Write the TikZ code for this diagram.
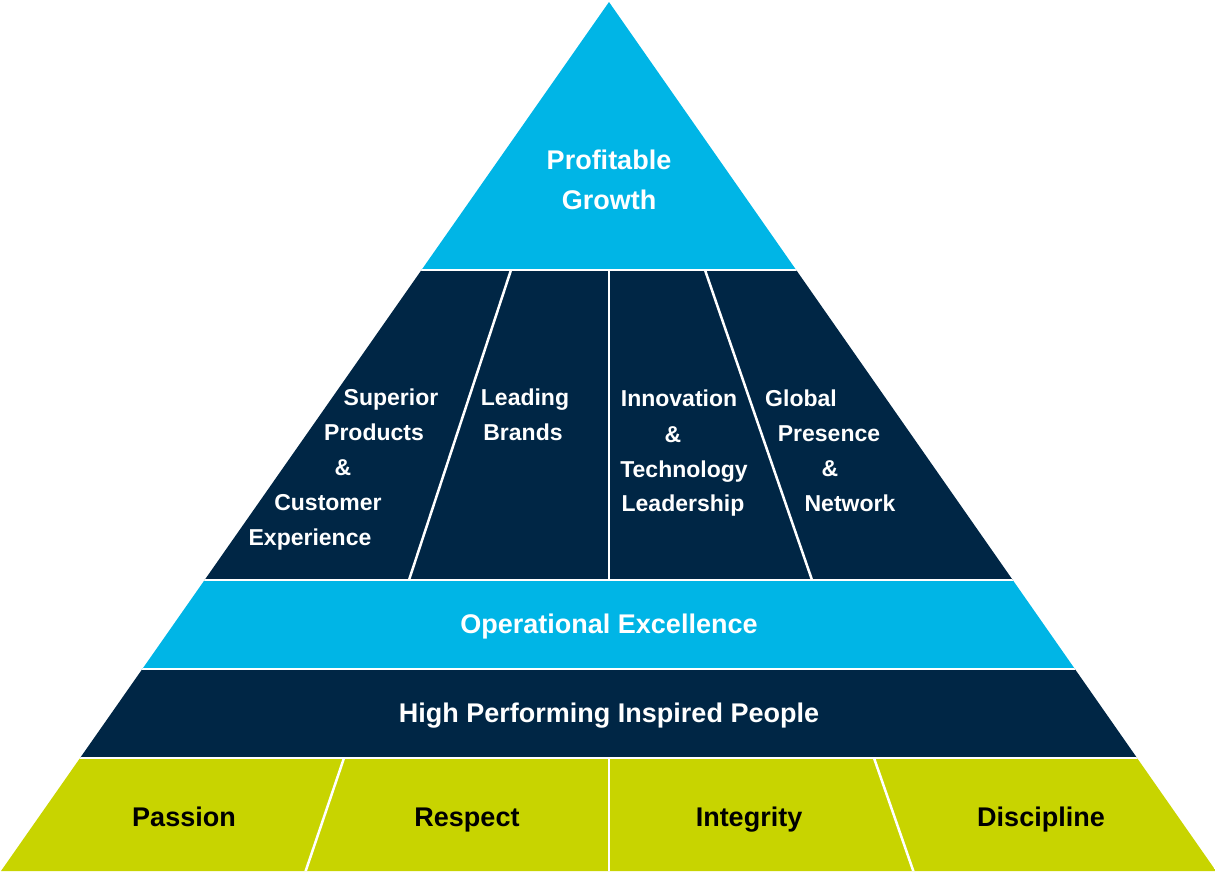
\documentclass[tikz,border=0pt]{standalone}
\usepackage{fontspec}
\setmainfont{Liberation Sans}
\usepackage{tikz}

\definecolor{skyblue}{HTML}{00B5E6}
\definecolor{navy}{HTML}{002645}
\definecolor{lime}{HTML}{C8D400}

\begin{document}
\begin{tikzpicture}[x=1pt,y=-1pt,
  tiertext/.style={anchor=base,inner sep=0pt,text=white,
    font=\bfseries\fontsize{27}{35}\selectfont},
  pillartext/.style={tiertext,font=\bfseries\fontsize{23}{35}\selectfont},
  basetext/.style={tiertext,text=black},
  gap/.style={white,line width=2.5pt}]
  \useasboundingbox (0,0) rectangle (1215,873);

  % the pyramid, cut into its tiers
  \begin{scope}
    \clip (609,2) -- (1,871) -- (1216,871) -- cycle;
    \fill[skyblue] (0,0) rectangle (1215,270);
    \fill[navy] (0,270) rectangle (1215,580);
    \fill[skyblue] (0,580) rectangle (1215,669);
    \fill[navy] (0,669) rectangle (1215,758);
    \fill[lime] (0,758) rectangle (1215,873);

    \draw[gap] (0,270) -- (1215,270);
    \draw[gap] (0,580) -- (1215,580);
    \draw[gap] (0,669) -- (1215,669);
    \draw[gap] (0,758) -- (1215,758);

    \draw[gap] (511,270) -- (409,580);
    \draw[gap] (609,270) -- (609,580);
    \draw[gap] (705,270) -- (812,580);

    \draw[gap] (344,758) -- (305,873);
    \draw[gap] (609,758) -- (609,873);
    \draw[gap] (874,758) -- (914,873);
  \end{scope}

  % top
  \node[tiertext] (growth1) at (609,169) {Profitable};
  \node[tiertext] (growth2) at (609,209) {Growth};

  % pillars
  \node[pillartext] (prod1) at (391,405) {Superior};
  \node[pillartext] (prod2) at (374,440) {Products};
  \node[pillartext] (prod3) at (343,475) {\&};
  \node[pillartext] (prod4) at (328,510) {Customer};
  \node[pillartext] (prod5) at (310,545) {Experience};

  \node[pillartext] (brand1) at (525,405) {Leading};
  \node[pillartext] (brand2) at (523,440) {Brands};

  \node[pillartext] (tech1) at (679,406) {Innovation};
  \node[pillartext] (tech2) at (673,442) {\&};
  \node[pillartext] (tech3) at (684,477) {Technology};
  \node[pillartext] (tech4) at (683,511) {Leadership};

  \node[pillartext] (glob1) at (801,406) {Global};
  \node[pillartext] (glob2) at (829,441) {Presence};
  \node[pillartext] (glob3) at (830,476) {\&};
  \node[pillartext] (glob4) at (850,511) {Network};

  % foundation
  \node[tiertext] (opex) at (609,633) {Operational Excellence};
  \node[tiertext] (people) at (609,722) {High Performing Inspired People};

  \node[basetext] (passion) at (184,826) {Passion};
  \node[basetext] (respect) at (467,826) {Respect};
  \node[basetext] (integrity) at (749,826) {Integrity};
  \node[basetext] (discipline) at (1041,826) {Discipline};
\end{tikzpicture}
\end{document}
